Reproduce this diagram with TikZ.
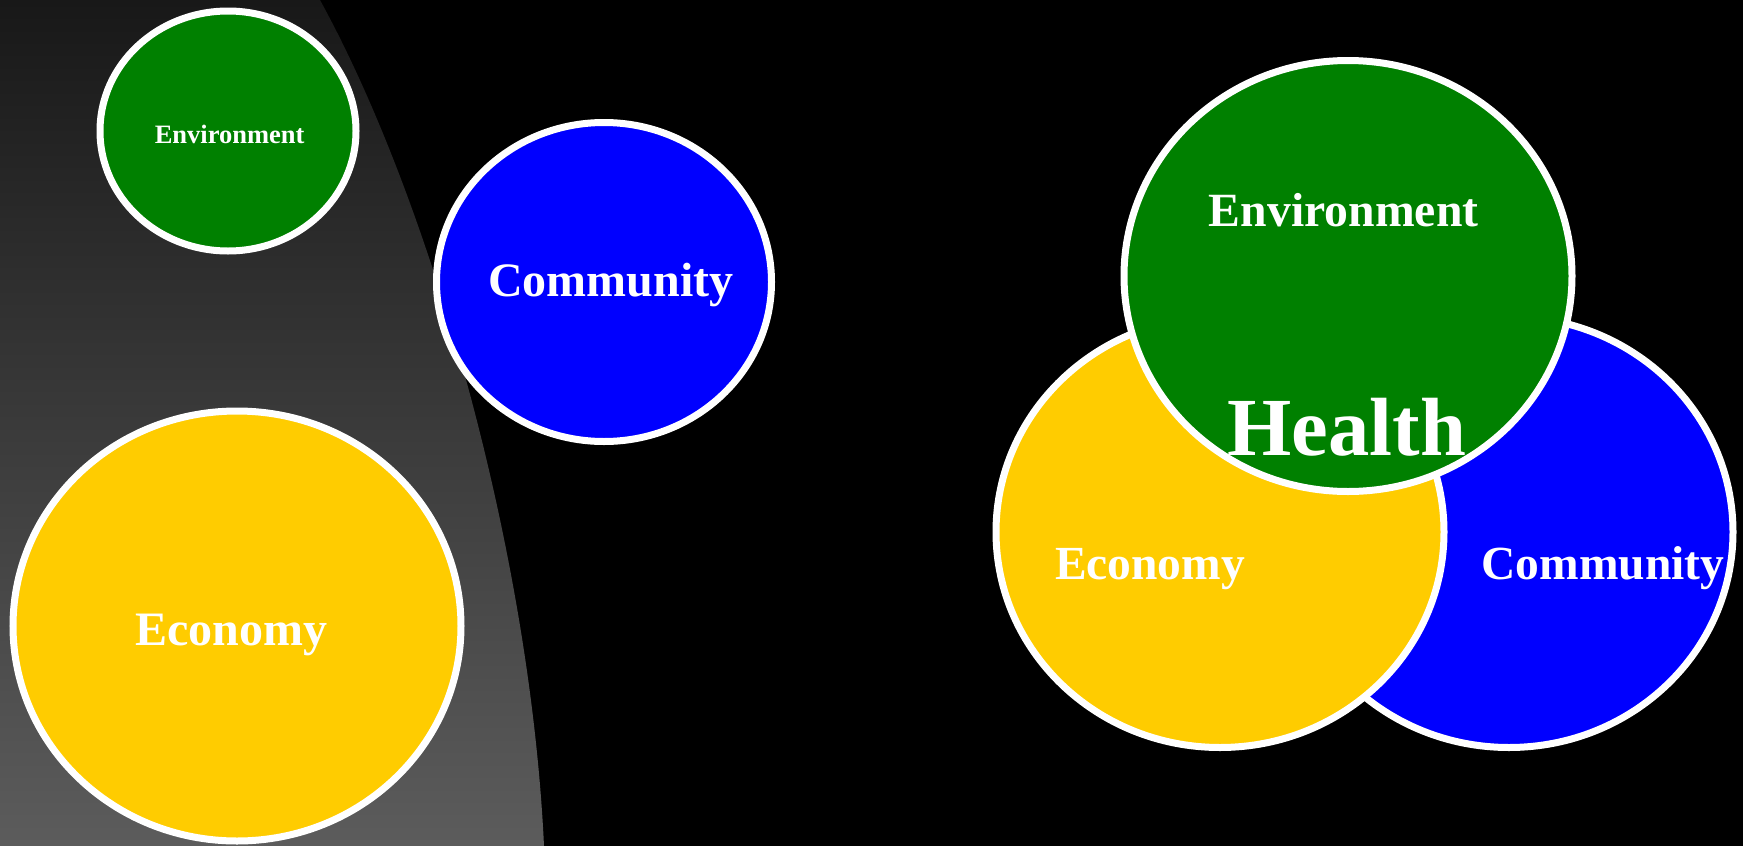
\documentclass[tikz,border=0pt]{standalone}
\usepackage{fontspec}
\setmainfont{Liberation Serif}
\usetikzlibrary{shapes.geometric}
\definecolor{envgreen}{HTML}{008000}
\definecolor{combblue}{HTML}{0000FF}
\definecolor{ecoyellow}{HTML}{FFCC00}
\definecolor{gtop}{HTML}{181818}
\definecolor{gbot}{HTML}{5C5C5C}
\tikzset{
  circ/.style={ellipse, draw=white, line width=7pt, inner sep=0pt, outer sep=0pt},
  lbl/.style={text=white, anchor=base, inner sep=0pt},
}
\newcommand{\fsz}[1]{\fontsize{#1}{#1}\selectfont\bfseries}
\begin{document}
\begin{tikzpicture}[x=1pt,y=-1pt]
\useasboundingbox (0,0) rectangle (1743,846);
\fill[black] (0,0) rectangle (1743,846);
\shade[top color=gtop, bottom color=gbot] (0,0) -- (320,0) .. controls (430,200) and (530,550) .. (544,846) -- (0,846) -- cycle;
% left group
\node[circ, fill=envgreen, minimum width=256pt, minimum height=240pt] (envL) at (228,131) {};
\node[circ, fill=combblue, minimum width=335pt, minimum height=319pt] (comL) at (604,282) {};
\node[circ, fill=ecoyellow, minimum width=448pt, minimum height=430pt] (ecoL) at (237,626) {};
\node[lbl, font=\fsz{26.5}] (tEnvL) at (229.6,143) {Environment};
\node[lbl, font=\fsz{48}] (tComL) at (611,296) {Community};
\node[lbl, font=\fsz{48}] (tEcoL) at (231.6,645) {Economy};
% right Venn
\node[circ, fill=combblue, minimum width=448pt, minimum height=431pt] (comR) at (1509,532) {};
\node[circ, fill=ecoyellow, minimum width=448pt, minimum height=431pt] (ecoR) at (1220,532) {};
\node[circ, fill=envgreen, minimum width=448pt, minimum height=431pt] (envR) at (1348,276) {};
\node[lbl, font=\fsz{47.7}] (tEnvR) at (1343.7,226) {Environment};
\node[lbl, font=\fsz{82.6}] (tHealth) at (1347,455.5) {Health};
\node[lbl, font=\fsz{47.5}] (tEcoR) at (1150,579.5) {Economy};
\node[lbl, font=\fsz{47.5}] (tComR) at (1603,579.5) {Community};
\end{tikzpicture}
\end{document}
